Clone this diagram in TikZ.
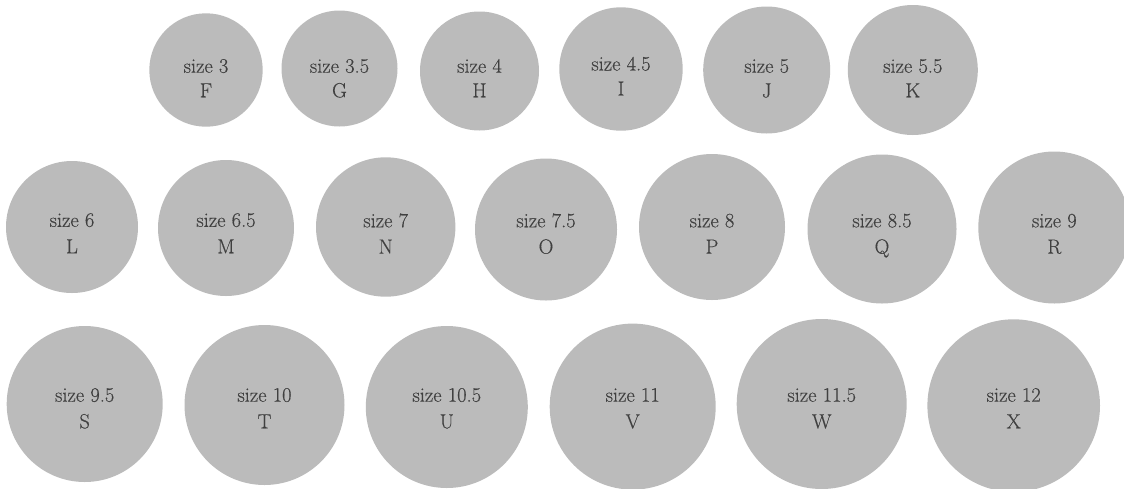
\documentclass[tikz,border=0pt]{standalone}
\usepackage{fontspec}
\newfontfamily\lblfont{Latin Modern Roman}[FakeBold=0.35]
\begin{document}
\begin{tikzpicture}[x=1pt,y=-1pt,
  dot/.style={circle,fill=dotgray,draw=none,inner sep=0pt},
  lbl/.style={anchor=base,inner sep=0pt,text=txtgray,font=\lblfont\fontsize{20.5}{24}\selectfont}]
\definecolor{dotgray}{HTML}{BBBBBB}
\definecolor{txtgray}{HTML}{404040}
\useasboundingbox (0,0) rectangle (1124,488);
\clip (0,0) rectangle (1124,488);
\foreach \n/\x/\y/\r/\s/\b/\d in {
  F/206/70/56.7/3/72.7/24.6,
  G/339.5/68.5/58/3.5/72.7/24.6,
  H/479.5/71/59.5/4/72.7/24.6,
  I/621/69/61.7/4.5/70.5/25,
  J/766.7/70/63.5/5/72.7/24.6,
  K/912.8/70/65/5.5/72.7/24.6,
  L/72/227/66/6/226.8/26.5,
  M/226/228/68/6.5/226.8/26.5,
  N/385.7/227/69.7/7/227.3/26.3,
  O/546/229.5/71/7.5/227.3/26.3,
  P/712/227/73/8/227.3/26.3,
  Q/882/229/74.5/8.5/227.3/26.3,
  R/1054.3/227.5/76/9/227.3/26.3,
  S/84.7/404/78/9.5/401.7/26.6,
  T/264.5/405/80/10/401.7/26.6,
  U/446.8/407/81/10.5/401.7/26.6,
  V/632.7/406.6/83/11/401.7/26.6,
  W/821.7/404/85/11.5/401.7/26.6,
  X/1013.7/405.6/86.3/12/401.7/26.6}{
  \node[dot,minimum size=2*\r pt] (\n) at (\x,\y) {};
  \node[lbl] (\n-size) at (\x,\b) {size \s};
  \node[lbl] (\n-letter) at (\x,\b+\d) {\n};
}
\end{tikzpicture}
\end{document}
